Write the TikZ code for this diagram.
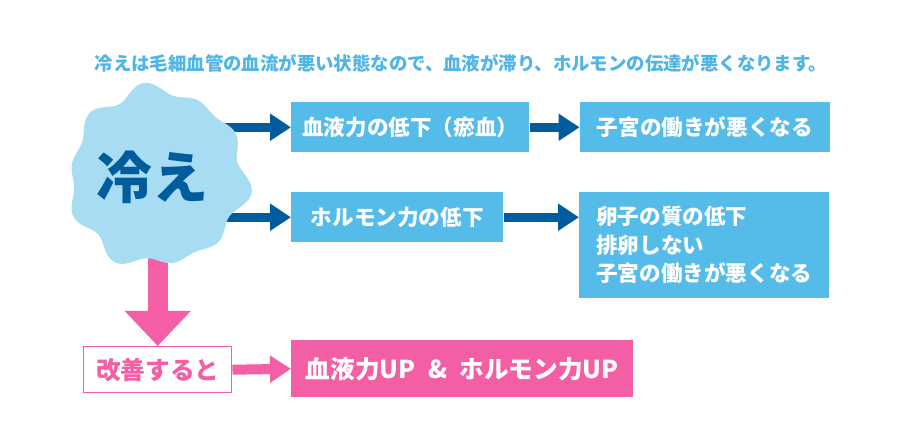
\documentclass[tikz,border=0pt]{standalone}
\usepackage{fontspec}
\setmainfont{Noto Sans CJK JP}
\usetikzlibrary{arrows.meta, positioning, backgrounds}

\definecolor{hieblue}{HTML}{A8DCF2}
\definecolor{boxblue}{HTML}{55BBE8}
\definecolor{darkblue}{HTML}{005C9C}
\definecolor{leadblue}{HTML}{4FB4E6}
\definecolor{hiepink}{HTML}{F35EA4}

\begin{document}
\begin{tikzpicture}[x=0.75pt, y=-0.75pt, font=\bfseries,
    box/.style={fill=boxblue, text=white, inner sep=0pt, anchor=north west,
        font=\bfseries\fontsize{16.2}{21.4}\selectfont, minimum height=37.5pt},
    pinkbox/.style={fill=hiepink, text=white, inner sep=0pt, anchor=north west,
        font=\bfseries\fontsize{18.5}{22}\selectfont},
    darrow/.style={draw=darkblue, line width=6.75pt, -{Triangle[length=15.75pt, width=19.5pt]}},
    parrow/.style={draw=hiepink, line width=7.5pt, -{Triangle[length=15.75pt, width=19.5pt]}},
    bigarrow/.style={draw=hiepink, line width=15pt, -{Triangle[length=26.25pt, width=48pt]}}]
    \useasboundingbox (0,0) rectangle (900,438);

    % Nodes
    \node[text=leadblue, font=\bfseries\fontsize{13.8}{16}\selectfont] (lead) at (461,63)
        {冷えは毛細血管の血流が悪い状態なので、血液が滞り、ホルモンの伝達が悪くなります。};
    \node[text=darkblue, font=\bfseries\fontsize{42}{46}\selectfont] (hie) at (152,177) {冷え};
    \node[box, minimum width=178.5pt] (blood) at (291,102) {血液力の低下（瘀血）};
    \node[box, minimum width=187.5pt] (uterus) [right=37.5pt of blood] {子宮の働きが悪くなる};
    \node[box, minimum width=159pt] (hormone) at (291,192) {ホルモン力の低下};
    \node[box, minimum width=187.5pt, minimum height=79.5pt, align=left] (effects) at (579,192)
        {卵子の質の低下\\排卵しない\\子宮の働きが悪くなる};
    \node[draw=hiepink, line width=1.1pt, fill=white, text=hiepink, anchor=north west,
        font=\bfseries\fontsize{18.5}{22}\selectfont, minimum width=111pt, minimum height=34.5pt,
        inner sep=0pt] (kaizen) at (83,346) {改善すると};
    \node[pinkbox, minimum width=256.5pt, minimum height=42.75pt] (up) at (291,340)
        {血液力UP\hspace{0.5em}\&\hspace{0.5em}ホルモン力UP};

    % Arrows
    \draw[darrow] (blood.east) -- (uterus.west);
    \draw[darrow] (hormone.east) -- (effects.west |- hormone.east);
    \draw[parrow] (kaizen.east) -- (up.west);

    \begin{pgfonlayer}{background}
        \draw[darrow] (hie.center |- blood.west) -- (blood.west);
        \draw[darrow] (hie.center |- hormone.west) -- (hormone.west);
        \draw[bigarrow] (kaizen.north |- hie.south) -- (kaizen.north);
        % blob
        \fill[hieblue] plot[smooth cycle, domain=0:356, samples=90]
            ({157+(87+4*sin(10*\x)+3*sin(7*\x+20)+2*sin(3*\x+60))*cos(\x)},
             {177+(87+4*sin(10*\x)+3*sin(7*\x+20)+2*sin(3*\x+60))*sin(\x)});
    \end{pgfonlayer}
\end{tikzpicture}
\end{document}
